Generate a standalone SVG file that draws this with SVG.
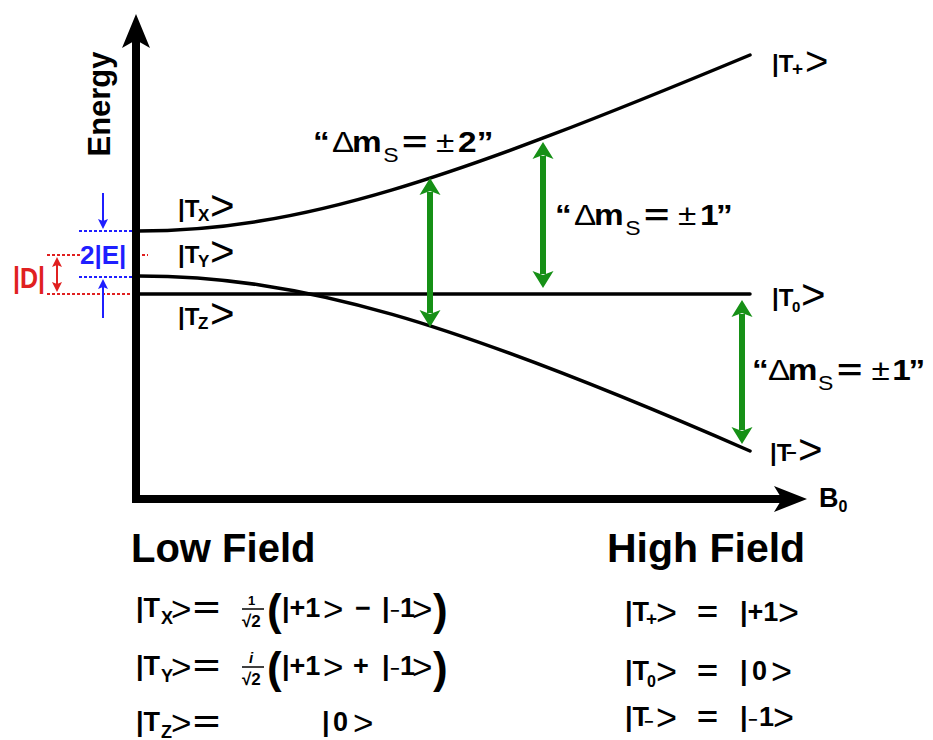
<svg xmlns="http://www.w3.org/2000/svg" width="933" height="740" viewBox="0 0 933 740">
<style>
text{font-family:"Liberation Sans",Arial,sans-serif;fill:#000}
.b{font-weight:bold}
.n{font-weight:normal}
.lv{fill:none;stroke:#000;stroke-width:3.5;stroke-linecap:round}
.ch{font-weight:normal}
.ga{stroke:#169016;stroke-width:6;fill:none}
.bl{stroke:#1f1fff;stroke-width:2;fill:none}
.rd{stroke:#e02020;stroke-width:2;fill:none}
.dot{stroke-dasharray:3 2}
.dl{font-size:29px}
</style>
<defs>
<marker id="gh" markerUnits="userSpaceOnUse" markerWidth="40" markerHeight="40" refX="0" refY="0" orient="auto-start-reverse" overflow="visible" viewBox="-20 -20 40 40">
<path d="M14,0 L-3,-10.5 L1,0 L-3,10.5 Z" fill="#169016"/>
</marker>
<marker id="bh" markerUnits="userSpaceOnUse" markerWidth="20" markerHeight="20" refX="0" refY="0" orient="auto-start-reverse" overflow="visible" viewBox="-10 -10 20 20">
<path d="M8,0 L-2,-5 L0,0 L-2,5 Z" fill="#1f1fff"/>
</marker>
<marker id="rh" markerUnits="userSpaceOnUse" markerWidth="20" markerHeight="20" refX="0" refY="0" orient="auto-start-reverse" overflow="visible" viewBox="-10 -10 20 20">
<path d="M8,0 L-2,-5 L0,0 L-2,5 Z" fill="#e02020"/>
</marker>
</defs>

<g id="zero-field-splitting">
<line class="bl dot" x1="79" y1="231" x2="134" y2="231"/>
<line class="bl dot" x1="79" y1="277" x2="134" y2="277"/>
<line class="rd dot" x1="47" y1="255" x2="80" y2="255"/>
<line class="rd dot" x1="132" y1="255" x2="148" y2="255"/>
<line class="rd dot" x1="47" y1="294" x2="134" y2="294"/>
<line class="bl" x1="103" y1="193" x2="103" y2="221" marker-end="url(#bh)"/>
<line class="bl" x1="103" y1="318" x2="103" y2="287" marker-end="url(#bh)"/>
<line class="rd" x1="57" y1="265" x2="57" y2="284" marker-start="url(#rh)" marker-end="url(#rh)"/>
<text class="b" x="80" y="264" font-size="26" style="fill:#1f1fff">2|E|</text>
<text class="b" x="13" y="288" font-size="30" textLength="32" lengthAdjust="spacingAndGlyphs" style="fill:#e02020">|D|</text>
</g>

<g id="axes">
<line x1="136" y1="38" x2="136" y2="503" stroke="#000" stroke-width="8"/>
<polygon points="136,14 150,48 136,40 122,48" fill="#000"/>
<line x1="132" y1="499" x2="786" y2="499" stroke="#000" stroke-width="8"/>
<polygon points="807,499 774,486 782,499 774,512" fill="#000"/>
<text class="b" font-size="31" text-anchor="middle" transform="translate(110,104) rotate(-90)">Energy</text>
<text class="b" x="819" y="507" font-size="27">B<tspan font-size="16" dy="5">0</tspan></text>
</g>

<g id="level-TX-Tplus">
<path class="lv" d="M138,231 C300,231 450,180 750,55"/>
<text class="b" x="178" y="217" font-size="24">|T</text>
<text class="b" x="198" y="221" font-size="17">X</text>
<text class="ch" x="210" y="220" font-size="42">&gt;</text>
<text class="b" x="772" y="72" font-size="24">|T</text>
<text class="b" x="792" y="75" font-size="19">+</text>
<text class="ch" x="805" y="75" font-size="40">&gt;</text>
</g>

<g id="level-TY-Tminus">
<path class="lv" d="M138,276 C300,276 450,320 750,451"/>
<text class="b" x="178" y="263" font-size="24">|T</text>
<text class="b" x="198" y="267" font-size="17">Y</text>
<text class="ch" x="210" y="266" font-size="42">&gt;</text>
<text class="b" x="770" y="461" font-size="24">|T</text>
<text class="b" x="786" y="459" font-size="18">−</text>
<text class="ch" x="798" y="464" font-size="42">&gt;</text>
</g>

<g id="level-TZ-T0">
<line class="lv" x1="138" y1="294" x2="750" y2="294"/>
<text class="b" x="178" y="325" font-size="24">|T</text>
<text class="b" x="198" y="329" font-size="17">Z</text>
<text class="ch" x="210" y="328" font-size="42">&gt;</text>
<text class="b" x="772" y="306" font-size="24">|T</text>
<text class="b" x="792" y="312" font-size="15">0</text>
<text class="ch" x="801" y="309" font-size="42">&gt;</text>
</g>

<g id="transitions">
<line class="ga" x1="430" y1="192" x2="430" y2="313" marker-start="url(#gh)" marker-end="url(#gh)"/>
<line class="ga" x1="543" y1="156" x2="543" y2="274" marker-start="url(#gh)" marker-end="url(#gh)"/>
<line class="ga" x1="742" y1="314" x2="742" y2="430" marker-start="url(#gh)" marker-end="url(#gh)"/>
</g>

<g id="label-dms2" transform="translate(313,152) scale(1.15,1)">
<text class="b dl" x="0" y="0">“</text>
<text class="n dl" x="16.5" y="0">Δ</text>
<text class="b dl" x="34" y="0">m</text>
<text class="n" x="61" y="10" font-size="20">S</text>
<text class="b dl" x="77.5" y="0" textLength="22" lengthAdjust="spacingAndGlyphs">=</text>
<text class="n dl" x="107" y="0">±</text>
<text class="b dl" x="126" y="0">2</text>
<text class="b dl" x="142.5" y="0">”</text>
</g>
<g id="label-dms1a" transform="translate(555,225) scale(1.15,1)">
<text class="b dl" x="0" y="0">“</text>
<text class="n dl" x="16.5" y="0">Δ</text>
<text class="b dl" x="34" y="0">m</text>
<text class="n" x="61" y="10" font-size="20">S</text>
<text class="b dl" x="77.5" y="0" textLength="22" lengthAdjust="spacingAndGlyphs">=</text>
<text class="n dl" x="107" y="0">±</text>
<text class="b dl" x="126" y="0">1</text>
<text class="b dl" x="140" y="0">”</text>
</g>
<g id="label-dms1b" transform="translate(752,380) scale(1.15,1)">
<text class="b dl" x="0" y="0">“</text>
<text class="n dl" x="14" y="0">Δ</text>
<text class="b dl" x="31" y="0">m</text>
<text class="n" x="57.5" y="10" font-size="20">S</text>
<text class="b dl" x="74" y="0" textLength="22" lengthAdjust="spacingAndGlyphs">=</text>
<text class="n dl" x="104" y="0">±</text>
<text class="b dl" x="122" y="0">1</text>
<text class="b dl" x="136" y="0">”</text>
</g>

<g id="low-field">
<text class="b" x="131" y="562" font-size="40">Low Field</text>
<g transform="translate(136,617)">
<text class="b" x="0" y="0" font-size="27">|T</text>
<text class="b" x="25" y="7" font-size="18">X</text>
<text class="ch" x="35" y="4" font-size="35">&gt;</text>
<text class="b" x="57" y="0" font-size="27" textLength="27" lengthAdjust="spacingAndGlyphs">=</text>
<text class="b" x="112" y="-12" font-size="13">1</text>
<line x1="106" y1="-8" x2="128" y2="-8" stroke="#000" stroke-width="1.5"/>
<text class="b" x="106" y="10" font-size="17">√2</text>
<text class="b" x="131" y="8" font-size="44">(</text>
<text class="b" x="146" y="0" font-size="27">|+1</text>
<text class="ch" x="187" y="4" font-size="35">&gt;</text>
<text class="b" x="219" y="0" font-size="27">−</text>
<text class="b" x="246" y="0" font-size="27">|</text>
<text class="b" x="254" y="-1" font-size="16">−</text>
<text class="b" x="264" y="0" font-size="27">1</text>
<text class="ch" x="276" y="4" font-size="35">&gt;</text>
<text class="b" x="297" y="8" font-size="44">)</text>
</g>
<g transform="translate(136,675)">
<text class="b" x="0" y="0" font-size="27">|T</text>
<text class="b" x="25" y="7" font-size="18">Y</text>
<text class="ch" x="35" y="4" font-size="35">&gt;</text>
<text class="b" x="57" y="0" font-size="27" textLength="27" lengthAdjust="spacingAndGlyphs">=</text>
<text class="b" x="113" y="-12" font-size="15" font-style="italic">i</text>
<line x1="106" y1="-8" x2="128" y2="-8" stroke="#000" stroke-width="1.5"/>
<text class="b" x="106" y="10" font-size="17">√2</text>
<text class="b" x="131" y="8" font-size="44">(</text>
<text class="b" x="146" y="0" font-size="27">|+1</text>
<text class="ch" x="187" y="4" font-size="35">&gt;</text>
<text class="b" x="217" y="0" font-size="27">+</text>
<text class="b" x="246" y="0" font-size="27">|</text>
<text class="b" x="254" y="-1" font-size="16">−</text>
<text class="b" x="264" y="0" font-size="27">1</text>
<text class="ch" x="276" y="4" font-size="35">&gt;</text>
<text class="b" x="297" y="8" font-size="44">)</text>
</g>
<g transform="translate(136,731)">
<text class="b" x="0" y="0" font-size="27">|T</text>
<text class="b" x="25" y="7" font-size="18">Z</text>
<text class="ch" x="35" y="4" font-size="35">&gt;</text>
<text class="b" x="57" y="0" font-size="27" textLength="27" lengthAdjust="spacingAndGlyphs">=</text>
<text class="b" x="186" y="0" font-size="27">|</text>
<text class="b" x="197" y="0" font-size="27">0</text>
<text class="ch" x="217" y="4" font-size="35">&gt;</text>
</g>
</g>

<g id="high-field">
<text class="b" x="607" y="562" font-size="41">High Field</text>
<g transform="translate(625,621)">
<text class="b" x="0" y="0" font-size="27">|T</text>
<text class="b" x="21" y="4" font-size="19">+</text>
<text class="ch" x="31" y="4" font-size="36">&gt;</text>
<text class="b" x="72" y="0" font-size="27" textLength="21" lengthAdjust="spacingAndGlyphs">=</text>
<text class="b" x="115" y="0" font-size="27">|+1</text>
<text class="ch" x="153" y="4" font-size="36">&gt;</text>
</g>
<g transform="translate(625,680)">
<text class="b" x="0" y="0" font-size="27">|T</text>
<text class="b" x="22" y="7" font-size="16">0</text>
<text class="ch" x="31" y="4" font-size="36">&gt;</text>
<text class="b" x="72" y="0" font-size="27" textLength="21" lengthAdjust="spacingAndGlyphs">=</text>
<text class="b" x="115" y="0" font-size="27">|</text>
<text class="b" x="127" y="0" font-size="27">0</text>
<text class="ch" x="146" y="4" font-size="36">&gt;</text>
</g>
<g transform="translate(625,726)">
<text class="b" x="0" y="0" font-size="27">|T</text>
<text class="b" x="19" y="1" font-size="16">−</text>
<text class="ch" x="31" y="4" font-size="36">&gt;</text>
<text class="b" x="72" y="0" font-size="27" textLength="21" lengthAdjust="spacingAndGlyphs">=</text>
<text class="b" x="115" y="0" font-size="27">|</text>
<text class="b" x="123" y="-1" font-size="16">−</text>
<text class="b" x="134" y="0" font-size="27">1</text>
<text class="ch" x="148" y="4" font-size="36">&gt;</text>
</g>
</g>
</svg>
